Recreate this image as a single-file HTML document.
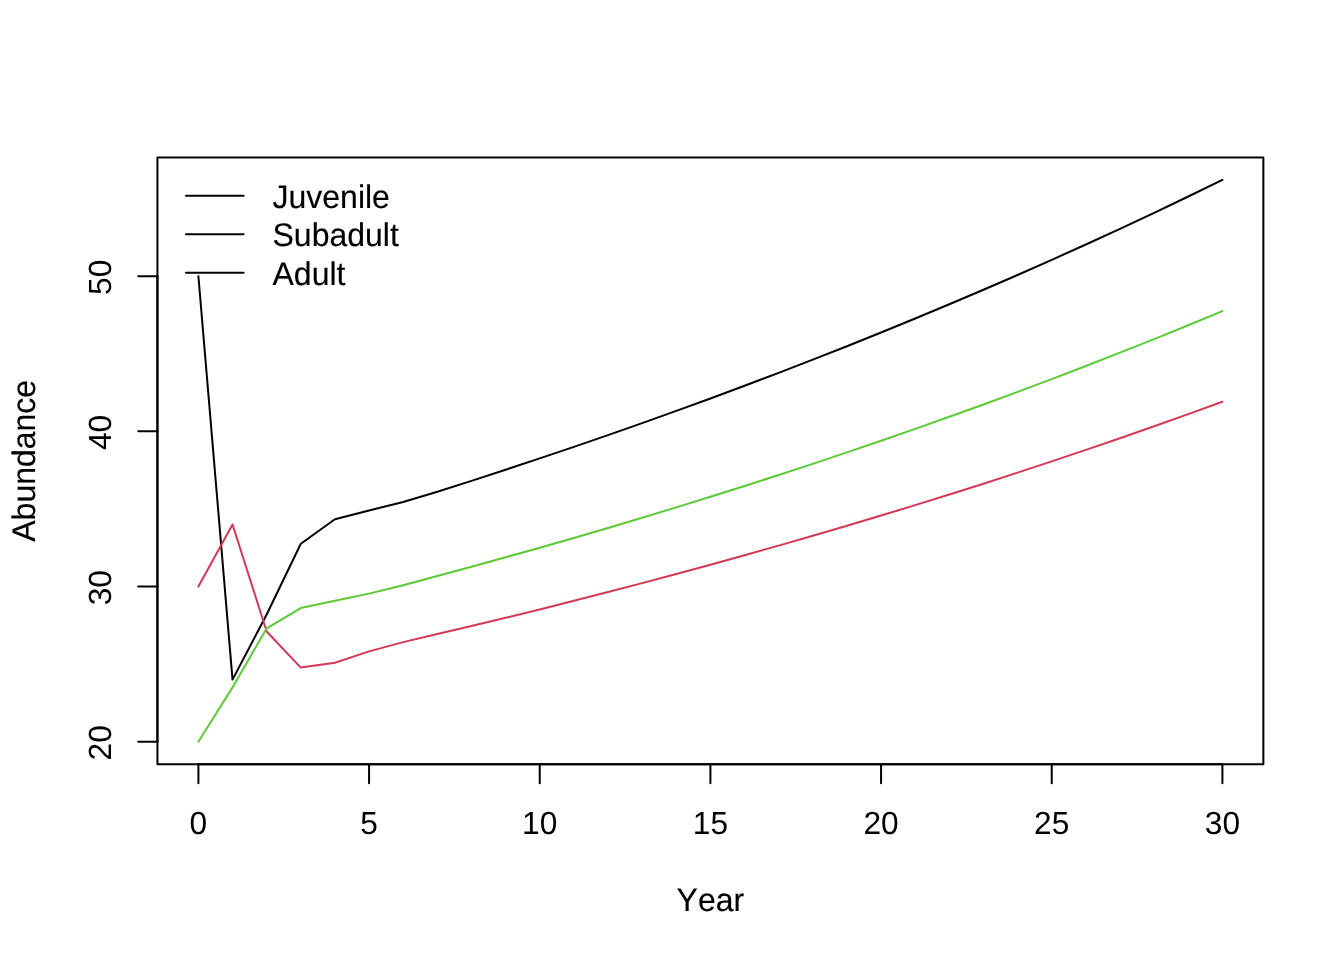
<!DOCTYPE html>
<html lang="en"><head><meta charset="utf-8"><title>Abundance by Year</title>
<style>html,body{margin:0;padding:0;background:#fff;overflow:hidden}svg{display:block}text{font-family:"Liberation Sans",Arial,Helvetica,sans-serif;font-size:32px;fill:#000;font-kerning:none;text-rendering:geometricPrecision}text.l{stroke:#000;stroke-width:.15px}</style></head>
<body>
<svg width="1344" height="960" viewBox="0 0 1344 960">
<rect width="1344" height="960" fill="#fff"/>
<polyline points="198.40,276.21 232.53,679.62 266.67,614.46 300.80,543.70 334.93,519.22 369.07,510.45 403.20,501.97 437.33,491.79 471.47,480.87 505.60,469.71 539.73,458.39 573.87,446.86 608.00,435.11 642.13,423.13 676.27,410.92 710.40,398.47 744.53,385.78 778.67,372.84 812.80,359.65 846.93,346.21 881.07,332.50 915.20,318.53 949.33,304.28 983.47,289.76 1017.60,274.96 1051.73,259.87 1085.87,244.49 1120.00,228.81 1154.13,212.82 1188.27,196.52 1222.40,179.91" fill="none" stroke="#000000" stroke-width="2" stroke-linejoin="round" stroke-linecap="round"/>
<polyline points="198.40,586.53 232.53,524.46 266.67,631.52 300.80,667.60 334.93,662.68 369.07,651.40 403.20,642.13 437.33,634.06 471.47,626.06 505.60,617.84 539.73,609.41 573.87,600.81 608.00,592.05 642.13,583.12 676.27,574.01 710.40,564.73 744.53,555.27 778.67,545.62 812.80,535.79 846.93,525.76 881.07,515.54 915.20,505.12 949.33,494.50 983.47,483.68 1017.60,472.64 1051.73,461.39 1085.87,449.92 1120.00,438.23 1154.13,426.31 1188.27,414.16 1222.40,401.77" fill="none" stroke="#D43856" stroke-width="2" stroke-linejoin="round" stroke-linecap="round"/>
<polyline points="198.40,741.69 232.53,687.38 266.67,628.42 300.80,608.02 334.93,600.71 369.07,593.64 403.20,585.16 437.33,576.06 471.47,566.76 505.60,557.33 539.73,547.72 573.87,537.93 608.00,527.95 642.13,517.77 676.27,507.39 710.40,496.82 744.53,486.04 778.67,475.05 812.80,463.84 846.93,452.42 881.07,440.78 915.20,428.91 949.33,416.81 983.47,404.47 1017.60,391.89 1051.73,379.08 1085.87,366.01 1120.00,352.69 1154.13,339.11 1188.27,325.26 1222.40,311.15" fill="none" stroke="#5CC936" stroke-width="2" stroke-linejoin="round" stroke-linecap="round"/>
<g stroke="#000" stroke-width="2" fill="none" stroke-linecap="round" stroke-linejoin="round">
<rect x="157.44" y="157.44" width="1105.92" height="606.72"/>
<path d="M198.40 764.16H1222.40"/>
<path d="M198.40 764.16v19.2"/>
<path d="M369.07 764.16v19.2"/>
<path d="M539.73 764.16v19.2"/>
<path d="M710.40 764.16v19.2"/>
<path d="M881.07 764.16v19.2"/>
<path d="M1051.73 764.16v19.2"/>
<path d="M1222.40 764.16v19.2"/>
<path d="M157.44 741.69V276.21"/>
<path d="M157.44 741.69h-19.2"/>
<path d="M157.44 586.53h-19.2"/>
<path d="M157.44 431.37h-19.2"/>
<path d="M157.44 276.21h-19.2"/>
<path d="M186 195.84H243.6"/>
<path d="M186 234.24H243.6"/>
<path d="M186 272.64H243.6"/>
</g>
<text transform="translate(198.40 834.10) scale(0.99 1)" text-anchor="middle">0</text>
<text transform="translate(369.07 834.10) scale(0.99 1)" text-anchor="middle">5</text>
<text transform="translate(539.73 834.10) scale(0.99 1)" text-anchor="middle">10</text>
<text transform="translate(710.40 834.10) scale(0.99 1)" text-anchor="middle">15</text>
<text transform="translate(881.07 834.10) scale(0.99 1)" text-anchor="middle">20</text>
<text transform="translate(1051.73 834.10) scale(0.99 1)" text-anchor="middle">25</text>
<text transform="translate(1222.40 834.10) scale(0.99 1)" text-anchor="middle">30</text>
<text transform="translate(110.90 742.79) rotate(-90) scale(0.99 1)" text-anchor="middle">20</text>
<text transform="translate(110.90 587.63) rotate(-90) scale(0.99 1)" text-anchor="middle">30</text>
<text transform="translate(110.90 432.47) rotate(-90) scale(0.99 1)" text-anchor="middle">40</text>
<text transform="translate(110.90 277.31) rotate(-90) scale(0.99 1)" text-anchor="middle">50</text>
<text class="l" transform="translate(710.40 910.80) scale(1 1.02)" text-anchor="middle">Year</text>
<text class="l" transform="translate(35.00 460.80) rotate(-90) scale(1 1.02)" text-anchor="middle">Abundance</text>
<text class="l" transform="translate(272.5 208.04) scale(1 1.02)">Juvenile</text>
<text class="l" transform="translate(272.5 246.44) scale(1 1.02)">Subadult</text>
<text class="l" transform="translate(272.5 284.84) scale(1 1.02)">Adult</text>
</svg>
</body></html>
